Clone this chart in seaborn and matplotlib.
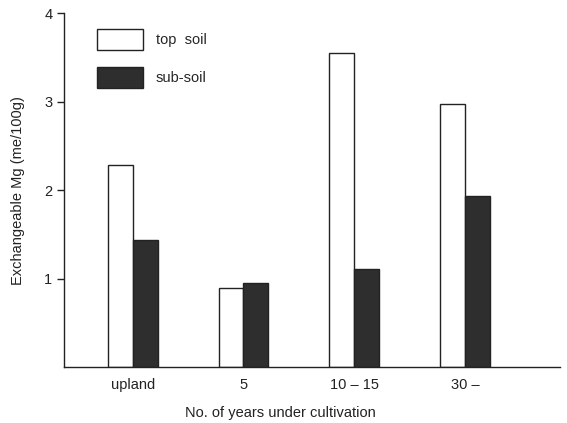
import matplotlib
matplotlib.use("Agg")
import matplotlib.pyplot as plt
import seaborn as sns
import pandas as pd

# Exchangeable Mg by years under cultivation, top soil vs sub-soil
categories = ["upland", "5", "10 \u2013 15", "30 \u2013"]
top_soil = [2.28, 0.90, 3.55, 2.97]
sub_soil = [1.44, 0.95, 1.11, 1.93]
layers = ["top  soil", "sub-soil"]

df = pd.DataFrame({
    "years": categories * 2,
    "mg": top_soil + sub_soil,
    "layer": [layers[0]] * len(categories) + [layers[1]] * len(categories),
})

sns.set_style("ticks")
plt.rcParams["font.family"] = ["Liberation Sans", "DejaVu Sans"]

FS = 10.5
INK = "#222222"

fig = plt.figure(figsize=(5.67, 4.23), dpi=100)
ax = fig.add_axes([0.113, 0.132, 0.875, 0.837])

sns.barplot(data=df, x="years", y="mg", hue="layer", order=categories,
            hue_order=layers, palette=["white", "#2e2e2e"], width=0.45,
            edgecolor=INK, linewidth=1.0, ax=ax, saturation=1)

ax.set_xlim(-0.62, 3.86)
ax.set_ylim(0, 4)
ax.set_yticks([1, 2, 3, 4])
ax.tick_params(axis="y", direction="out", length=5, width=1, labelsize=FS,
               colors=INK)
ax.tick_params(axis="x", length=0, labelsize=FS, pad=8, colors=INK)
for side in ("top", "right"):
    ax.spines[side].set_visible(False)
for side in ("left", "bottom"):
    ax.spines[side].set_color(INK)
    ax.spines[side].set_linewidth(1.0)

ax.set_ylabel("Exchangeable Mg (me/100g)", fontsize=FS, color=INK,
              labelpad=14)
ax.set_xlabel("No. of years under cultivation", fontsize=FS, color=INK)
ax.xaxis.set_label_coords(0.435, -0.11)

leg = ax.legend(loc="upper left", bbox_to_anchor=(0.066, 0.955), frameon=False,
                fontsize=FS, handlelength=3.15, handleheight=1.85,
                labelspacing=1.15, handletextpad=0.9, borderpad=0,
                borderaxespad=0, title=None)

fig.savefig("out.png", dpi=100, facecolor="white")
